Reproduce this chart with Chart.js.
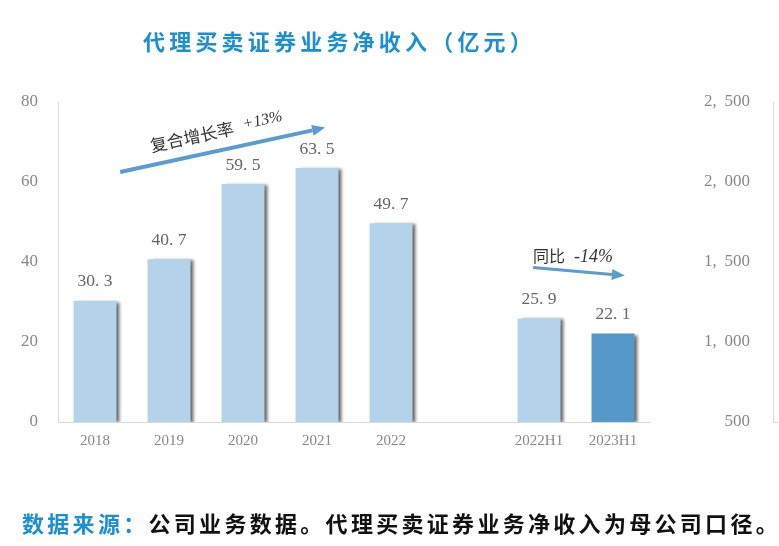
<!DOCTYPE html>
<html>
<head>
<meta charset="utf-8">
<script src="https://cdn.jsdelivr.net/npm/chart.js@4/dist/chart.umd.min.js"></script>
<style>
  html, body { margin: 0; padding: 0; background: #fff; }
  #wrap { position: relative; width: 779px; height: 546px; overflow: hidden; }
  #c { position: absolute; left: 0; top: 0; }
  #title { position: absolute; left: 143px; top: 24px; white-space: nowrap;
    font-family: "Noto Sans CJK SC", sans-serif; font-weight: bold; font-size: 22px;
    letter-spacing: 4.2px; color: #1b8fd2; line-height: 32px; }
  #foot { position: absolute; left: 22px; top: 506px; white-space: nowrap;
    font-family: "Noto Sans CJK SC", sans-serif; font-weight: bold; font-size: 22px;
    letter-spacing: 3.3px; color: #111; line-height: 32px; }
  #foot span { color: #1b8fd2; }
</style>
</head>
<body>
<div id="wrap">
  <canvas id="c" width="779" height="546"></canvas>
  <div id="title">代理买卖证券业务净收入（亿元）</div>
  <div id="foot"><span>数据来源：</span>公司业务数据。代理买卖证券业务净收入为母公司口径。</div>
</div>
<script>
const categories = ["2018", "2019", "2020", "2021", "2022", "", "2022H1", "2023H1"];
const netIncome = [30.3, 40.7, 59.5, 63.5, 49.7, null, 25.9, 22.1];
const barColors = ["#b4d3ea", "#b4d3ea", "#b4d3ea", "#b4d3ea", "#b4d3ea", "#b4d3ea", "#b4d3ea", "#5697ca"];
const leftTicks = [0, 20, 40, 60, 80];
const rightTicks = [500, 1000, 1500, 2000, 2500];
const cagrText = ["复合增长率", "+13%"];
const yoyText = ["同比", "-14%"];

function fmtRight(v) {
  const s = String(v);
  return s.length > 3 ? s.slice(0, s.length - 3) + ",\u2009 " + s.slice(-3) : s;
}

const shadowPlugin = {
  id: 'barShadow',
  beforeDatasetsDraw(chart) {
    const ctx = chart.ctx;
    ctx.save();
    ctx.shadowColor = 'rgba(40,40,40,0.65)';
    ctx.shadowOffsetX = 4;
    ctx.shadowOffsetY = 1;
    ctx.shadowBlur = 3;
  },
  afterDatasetsDraw(chart) {
    chart.ctx.restore();
  }
};

const labelPlugin = {
  id: 'valueLabels',
  afterDatasetsDraw(chart) {
    const ctx = chart.ctx;
    const meta = chart.getDatasetMeta(0);
    ctx.save();
    ctx.font = '17.5px "Liberation Serif", serif';
    ctx.fillStyle = '#666';
    ctx.textAlign = 'center';
    ctx.textBaseline = 'middle';
    meta.data.forEach((bar, i) => {
      const v = netIncome[i];
      if (v == null) return;
      ctx.fillText(v.toFixed(1).replace('.', '. '), bar.x, bar.y - 19);
    });
    ctx.restore();
  }
};

function arrow(ctx, x1, y1, x2, y2) {
  const ang = Math.atan2(y2 - y1, x2 - x1);
  const head = 13, half = 5.5;
  const bx = x2 - head * Math.cos(ang), by = y2 - head * Math.sin(ang);
  ctx.beginPath();
  ctx.moveTo(x1, y1);
  ctx.lineTo(bx, by);
  ctx.stroke();
  ctx.beginPath();
  ctx.moveTo(x2, y2);
  ctx.lineTo(bx + half * Math.sin(ang), by - half * Math.cos(ang));
  ctx.lineTo(bx - half * Math.sin(ang), by + half * Math.cos(ang));
  ctx.closePath();
  ctx.fill();
}

const annotPlugin = {
  id: 'annot',
  afterDraw(chart) {
    const ctx = chart.ctx;
    const xs = chart.scales.x, ys = chart.scales.y, y2 = chart.scales.y2;
    const px = c => xs.getPixelForValue(0) + c * (xs.getPixelForValue(1) - xs.getPixelForValue(0));
    const py = v => ys.getPixelForValue(v);
    ctx.save();
    // right axis line (sits to the right of its labels)
    const ax = y2.right + 24;
    ctx.strokeStyle = '#d9d9d9';
    ctx.lineWidth = 1;
    ctx.beginPath();
    ctx.moveTo(ax - 0.5, y2.top);
    ctx.lineTo(ax - 0.5, y2.bottom + 0.5);
    ctx.lineTo(ax + 4, y2.bottom + 0.5);
    ctx.stroke();
    // arrows
    ctx.strokeStyle = '#5b9bd1';
    ctx.fillStyle = '#5b9bd1';
    ctx.lineWidth = 4;
    arrow(ctx, px(0.34), py(62.5), px(3.11), py(73.6));
    ctx.lineWidth = 3;
    arrow(ctx, px(5.92), py(38.6), px(7.16), py(36.6));
    // CAGR text
    ctx.fillStyle = '#333';
    ctx.translate(px(1.64), py(72.6));
    ctx.rotate(Math.atan2(py(73.6) - py(62.5), px(3.11) - px(0.34)));
    ctx.textBaseline = 'middle';
    ctx.font = '17px "Noto Sans CJK SC", sans-serif';
    const w1 = ctx.measureText(cagrText[0]).width;
    ctx.font = 'italic 16px "Liberation Serif", serif';
    const w2 = ctx.measureText(cagrText[1]).width;
    const total = w1 + 10 + w2;
    ctx.textAlign = 'left';
    ctx.font = '17px "Noto Sans CJK SC", sans-serif';
    ctx.fillText(cagrText[0], -total / 2, 0);
    ctx.font = 'italic 16px "Liberation Serif", serif';
    ctx.fillText(cagrText[1], -total / 2 + w1 + 10, -1);
    ctx.setTransform(1, 0, 0, 1, 0, 0);
    // YoY text
    ctx.textAlign = 'left';
    ctx.textBaseline = 'middle';
    ctx.font = '16px "Noto Sans CJK SC", sans-serif';
    const x0 = px(5.92);
    ctx.fillText(yoyText[0], x0, py(41.6));
    const w3 = ctx.measureText(yoyText[0]).width;
    ctx.font = 'italic 18px "Liberation Serif", serif';
    ctx.fillText(yoyText[1], x0 + w3 + 9, py(41.1));
    ctx.restore();
  }
};

const tickFont = { family: '"Liberation Serif", serif', size: 15 };
const sideFont = { family: '"Liberation Serif", serif', size: 17 };

new Chart(document.getElementById('c'), {
  type: 'bar',
  data: {
    labels: categories,
    datasets: [{
      data: netIncome,
      backgroundColor: barColors,
      borderWidth: 0,
      categoryPercentage: 1,
      barPercentage: 0.58,
      yAxisID: 'y'
    }]
  },
  options: {
    responsive: false,
    animation: false,
    devicePixelRatio: 1,
    layout: { padding: { left: 0, right: 29, top: 102, bottom: 84 } },
    plugins: { legend: { display: false }, tooltip: { enabled: false }, title: { display: false } },
    scales: {
      x: {
        grid: { display: false, drawTicks: false },
        border: { display: true, color: '#d9d9d9', width: 1 },
        ticks: { font: tickFont, color: '#888', padding: 10, maxRotation: 0, autoSkip: false },
        afterFit(s) { s.height = 40; }
      },
      y: {
        position: 'left',
        min: 0, max: 80,
        afterBuildTicks(s) { s.ticks = leftTicks.map(v => ({ value: v })); },
        grid: { display: false, drawTicks: false },
        border: { display: true, color: '#d9d9d9', width: 1 },
        ticks: { font: sideFont, color: '#888', padding: 20 },
        afterFit(s) { s.width = 58; }
      },
      y2: {
        display: true,
        position: 'right',
        min: 500, max: 2500,
        afterBuildTicks(s) { s.ticks = rightTicks.map(v => ({ value: v })); },
        grid: { display: false, drawTicks: false },
        border: { display: false },
        ticks: { font: sideFont, color: '#888', padding: 10, crossAlign: 'far', callback: v => fmtRight(v) },
        afterFit(s) { s.width = 100; }
      }
    }
  },
  plugins: [shadowPlugin, labelPlugin, annotPlugin]
});
</script>
</body>
</html>
